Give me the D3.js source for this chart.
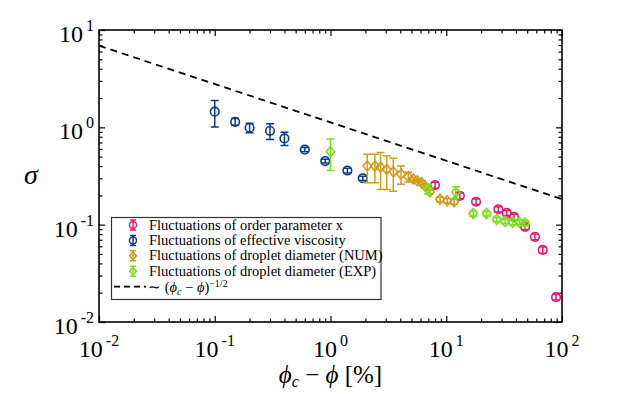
<!DOCTYPE html>
<html>
<head>
<meta charset="utf-8">
<script src="https://cdn.jsdelivr.net/npm/d3@7"></script>
<style>
  body { margin: 0; background: #fff; }
</style>
</head>
<body>
<svg width="634" height="394"></svg>
<script>
// ---- data ----
// order parameter x (pink circles)
const orderX   = [8.0, 13.1, 18.1, 28.2, 33.3, 38.5, 48.0, 58.4, 68.2, 88.8];
const orderY   = [0.255, 0.198, 0.172, 0.144, 0.132, 0.120, 0.095, 0.075, 0.055, 0.018];
const orderErr = [0.018, 0.013, 0.011, 0.009, 0.008, 0.008, 0.006, 0.005, 0.004, 0.0012];

// effective viscosity (blue circles)
const viscX   = [0.1, 0.15, 0.2, 0.3, 0.4, 0.6, 0.9, 1.4, 1.9];
const viscY   = [1.45, 1.14, 0.99, 0.92, 0.77, 0.59, 0.45, 0.36, 0.30];
const viscErr = [0.44, 0.09, 0.11, 0.17, 0.12, 0.03, 0.02, 0.02, 0.015];

// droplet diameter NUM (gold diamonds)
const numX   = [2.08, 2.42, 2.71, 3.06, 3.49, 4.07, 4.70, 5.19, 5.62, 6.14, 6.55, 7.24, 8.84, 10.2, 11.7];
const numY   = [0.40, 0.40, 0.39, 0.37, 0.35, 0.33, 0.31, 0.294, 0.283, 0.27, 0.25, 0.218, 0.182, 0.176, 0.172];
const numErr = [0.13, 0.13, 0.16, 0.14, 0.13, 0.07, 0.035, 0.012, 0.012, 0.012, 0.012, 0.01, 0.01, 0.01, 0.01];

// droplet diameter EXP (green diamonds)
const expX   = [1.0, 6.95, 12.1, 17.1, 22.3, 27.3, 32.2, 37.4, 42.8, 47.9];
const expY   = [0.56, 0.232, 0.215, 0.130, 0.130, 0.113, 0.108, 0.106, 0.106, 0.104];
const expErr = [0.20, 0.025, 0.03, 0.008, 0.007, 0.006, 0.006, 0.006, 0.006, 0.006];

// guide line ~ (phi_c - phi)^(-1/2), end points as drawn
const guideX = [0.01, 100];
const guideY = [6.9, 0.183];

const xMajor = [0.01, 0.1, 1, 10, 100];
const xExp   = ["-2", "-1", "0", "1", "2"];
const yMajor = [0.01, 0.1, 1, 10];
const yExp   = ["-2", "-1", "0", "1"];

const legendLabels = [
  "Fluctuations of order parameter x",
  "Fluctuations of effective viscosity",
  "Fluctuations of droplet diameter (NUM)",
  "Fluctuations of droplet diameter (EXP)"
];

// ---- layout ----
const svg = d3.select("svg");
const serif = "'Liberation Serif', 'Times New Roman', serif";
const margin = {left: 99, right: 72, top: 30, bottom: 72};
const width = 634 - margin.left - margin.right;
const height = 394 - margin.top - margin.bottom;

const xScale = d3.scaleLog().domain([0.01, 100]).range([margin.left, margin.left + width]);
const yScale = d3.scaleLog().domain([0.01, 10]).range([margin.top + height, margin.top]);

const colors = {order: "#e8196f", visc: "#0b3a8e", num: "#d29c1c", exp: "#78e016"};

// minor tick values
const minors = [];
[0.01, 0.1, 1, 10].forEach(d => { for (let k = 2; k <= 9; k++) minors.push(d * k); });
const yMinors = minors.filter(v => v < 10);

const axes = svg.append("g");
const major = 6, minor = 3.5;

axes.append("g").attr("transform", "translate(0," + (margin.top + height) + ")")
  .call(d3.axisBottom(xScale).tickValues(xMajor).tickSize(-major).tickFormat(""));
axes.append("g").attr("transform", "translate(0," + (margin.top + height) + ")")
  .call(d3.axisBottom(xScale).tickValues(minors).tickSize(-minor).tickFormat(""));
axes.append("g").attr("transform", "translate(0," + margin.top + ")")
  .call(d3.axisTop(xScale).tickValues(xMajor).tickSize(-major).tickFormat(""));
axes.append("g").attr("transform", "translate(0," + margin.top + ")")
  .call(d3.axisTop(xScale).tickValues(minors).tickSize(-minor).tickFormat(""));
axes.append("g").attr("transform", "translate(" + margin.left + ",0)")
  .call(d3.axisLeft(yScale).tickValues(yMajor).tickSize(-major).tickFormat(""));
axes.append("g").attr("transform", "translate(" + margin.left + ",0)")
  .call(d3.axisLeft(yScale).tickValues(yMinors).tickSize(-minor).tickFormat(""));
axes.append("g").attr("transform", "translate(" + (margin.left + width) + ",0)")
  .call(d3.axisRight(yScale).tickValues(yMajor).tickSize(-major).tickFormat(""));
axes.append("g").attr("transform", "translate(" + (margin.left + width) + ",0)")
  .call(d3.axisRight(yScale).tickValues(yMinors).tickSize(-minor).tickFormat(""));

axes.selectAll(".domain").remove();
axes.selectAll(".tick line").attr("stroke", "#000").attr("stroke-width", 1.2);

svg.append("rect")
  .attr("x", margin.left).attr("y", margin.top)
  .attr("width", width).attr("height", height)
  .attr("fill", "none").attr("stroke", "#000").attr("stroke-width", 1.6);

// tick labels with superscripts
xMajor.forEach((v, i) => {
  const t = svg.append("text")
    .attr("x", xScale(v)).attr("y", margin.top + height + 35)
    .attr("text-anchor", "middle").attr("font-family", serif).attr("font-size", 24);
  t.append("tspan").text("10");
  t.append("tspan").attr("dx", 3).attr("dy", -11).attr("font-size", 16).text(xExp[i]);
});
yMajor.forEach((v, i) => {
  const t = svg.append("text")
    .attr("x", margin.left - 5).attr("y", yScale(v) + 12)
    .attr("text-anchor", "end").attr("font-family", serif).attr("font-size", 24);
  t.append("tspan").text("10");
  t.append("tspan").attr("dx", 3).attr("dy", -11).attr("font-size", 16).text(yExp[i]);
});

// axis titles
const xl = svg.append("text")
  .attr("x", margin.left + width / 2).attr("y", 383)
  .attr("text-anchor", "middle").attr("font-family", serif).attr("font-size", 25);
xl.append("tspan").attr("font-style", "italic").text("ϕ");
xl.append("tspan").attr("font-size", 16).attr("font-style", "italic").attr("dy", 4).text("c");
xl.append("tspan").attr("dy", -4).text(" − ");
xl.append("tspan").attr("font-style", "italic").text("ϕ");
xl.append("tspan").text(" [%]");

svg.append("text")
  .attr("x", 31).attr("y", 184)
  .attr("text-anchor", "middle").attr("font-family", serif)
  .attr("font-size", 28).attr("font-style", "italic")
  .text("σ");

// guide line
const line = d3.line().x(d => xScale(d[0])).y(d => yScale(d[1]));
svg.append("path")
  .datum(d3.zip(guideX, guideY))
  .attr("d", line)
  .attr("fill", "none").attr("stroke", "#000")
  .attr("stroke-width", 1.8).attr("stroke-dasharray", "7,5");

// series with error bars
const series = [
  {x: orderX, y: orderY, e: orderErr, c: colors.order, shape: "circle"},
  {x: viscX, y: viscY, e: viscErr, c: colors.visc, shape: "circle"},
  {x: numX, y: numY, e: numErr, c: colors.num, shape: "diamond"},
  {x: expX, y: expY, e: expErr, c: colors.exp, shape: "diamond"}
];

const capW = 4;
function drawMarker(g, cx, cy, shape, c) {
  if (shape === "circle") {
    g.append("circle").attr("cx", cx).attr("cy", cy).attr("r", 4.3)
      .attr("fill", "none").attr("stroke", c).attr("stroke-width", 1.6);
  } else {
    const s = 5;
    g.append("path")
      .attr("d", `M${cx},${cy - s}L${cx + s * 0.85},${cy}L${cx},${cy + s}L${cx - s * 0.85},${cy}Z`)
      .attr("fill", "none").attr("stroke", c).attr("stroke-width", 1.6);
  }
}

series.forEach(s => {
  const g = svg.append("g");
  const pts = d3.zip(s.x, s.y, s.e);
  pts.forEach(([x, y, e]) => {
    const px = xScale(x), top = yScale(y + e), bot = yScale(y - e);
    g.append("path")
      .attr("d", `M${px},${top}V${bot}M${px - capW},${top}H${px + capW}M${px - capW},${bot}H${px + capW}`)
      .attr("stroke", s.c).attr("stroke-width", 1.5).attr("fill", "none");
    drawMarker(g, px, yScale(y), s.shape, s.c);
  });
});

// legend
const lg = svg.append("g");
lg.append("rect")
  .attr("x", 111.5).attr("y", 217.5).attr("width", 269.5).attr("height", 82)
  .attr("fill", "#fff").attr("stroke", "#333").attr("stroke-width", 1.2);

legendLabels.forEach((lab, i) => {
  const cy = 225 + i * 15.4;
  const s = series[i];
  lg.append("path")
    .attr("d", `M133,${cy - 5}V${cy + 5}M${133 - 3},${cy - 5}H${133 + 3}M${133 - 3},${cy + 5}H${133 + 3}`)
    .attr("stroke", s.c).attr("stroke-width", 1.5);
  if (s.shape === "circle") {
    lg.append("circle").attr("cx", 133).attr("cy", cy).attr("r", 3.5)
      .attr("fill", "none").attr("stroke", s.c).attr("stroke-width", 1.5);
  } else {
    lg.append("path").attr("d", `M133,${cy - 4}L136.4,${cy}L133,${cy + 4}L129.6,${cy}Z`)
      .attr("fill", "none").attr("stroke", s.c).attr("stroke-width", 1.5);
  }
  lg.append("text").attr("x", 149).attr("y", cy + 4.5)
    .attr("font-family", serif).attr("font-size", 14.5).text(lab);
});

const ly = 225 + 4 * 15.4;
lg.append("line").attr("x1", 114).attr("x2", 146).attr("y1", ly).attr("y2", ly)
  .attr("stroke", "#000").attr("stroke-width", 1.6).attr("stroke-dasharray", "6,4");
const lt = lg.append("text").attr("x", 148).attr("y", ly + 5)
  .attr("font-family", serif).attr("font-size", 14.5);
lt.append("tspan").text("∼ (");
lt.append("tspan").attr("font-style", "italic").text("ϕ");
lt.append("tspan").attr("font-size", 10).attr("font-style", "italic").attr("dy", 3).text("c");
lt.append("tspan").attr("dy", -3).text(" − ");
lt.append("tspan").attr("font-style", "italic").text("ϕ");
lt.append("tspan").text(")");
lt.append("tspan").attr("font-size", 10).attr("dy", -5).text("−1/2");
</script>
</body>
</html>
